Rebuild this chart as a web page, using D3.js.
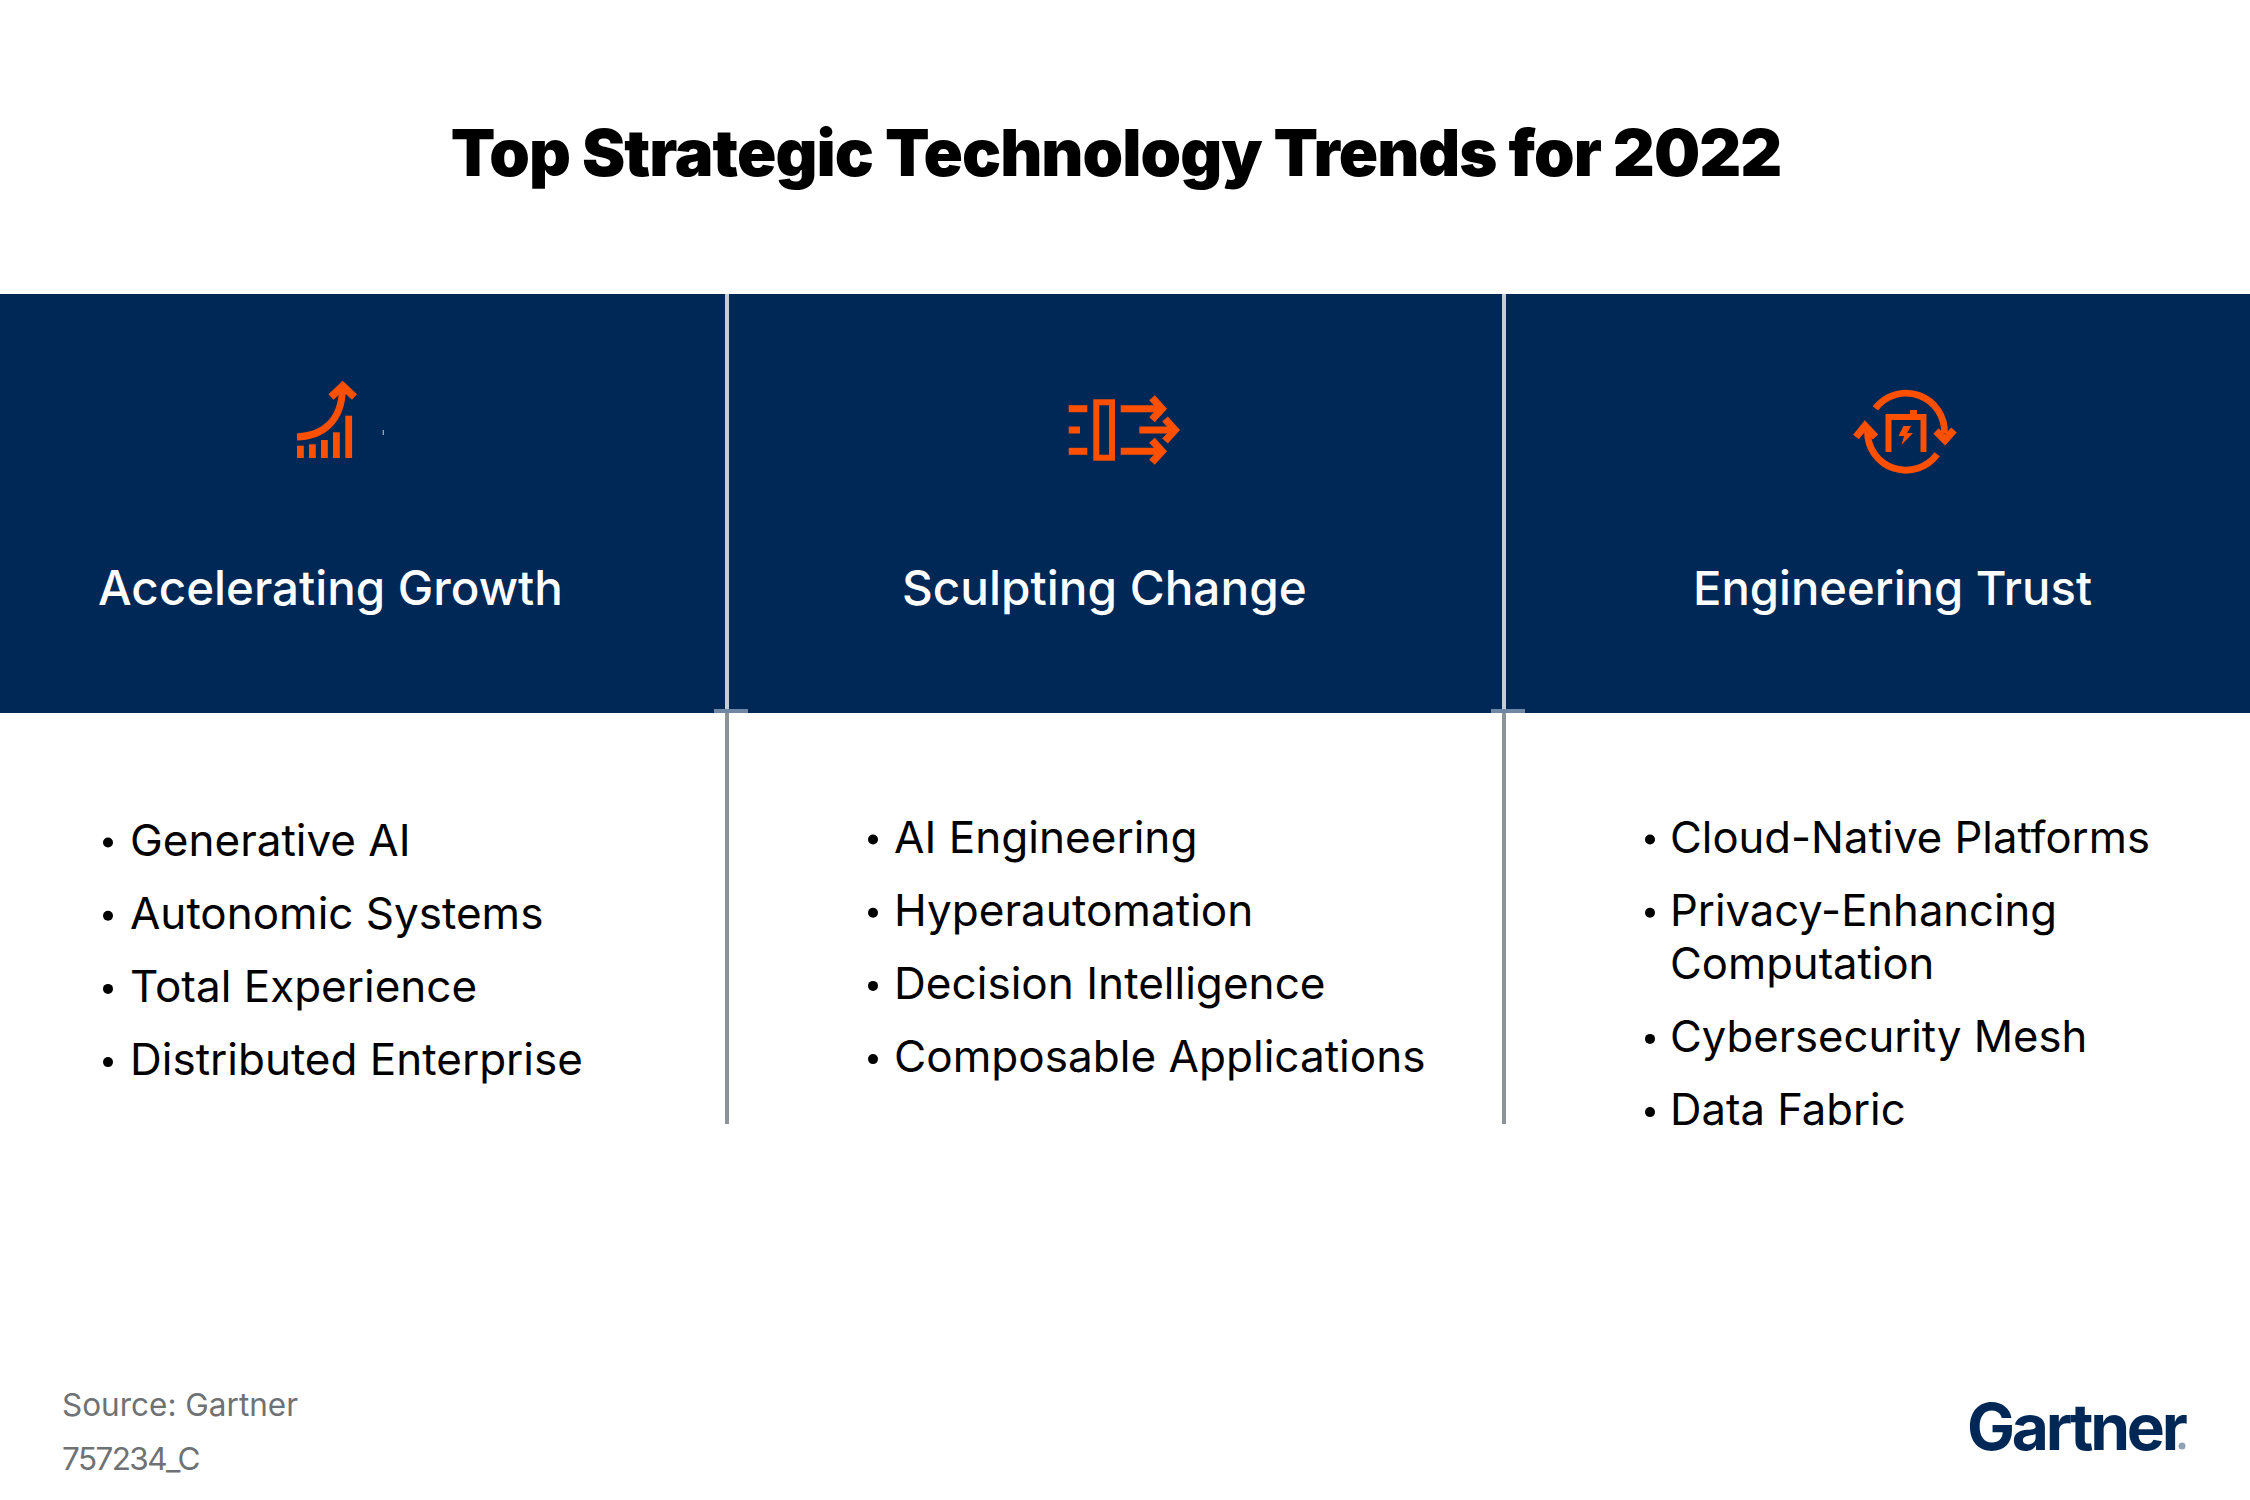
<!DOCTYPE html>
<html><head><meta charset="utf-8">
<script src="https://cdn.jsdelivr.net/npm/d3@7/dist/d3.min.js"></script>
<style>html,body{margin:0;padding:0;background:#fff}svg{display:block}text{font-family:Inter,"Noto Sans",sans-serif}</style>
</head><body><div id="chart"></div>
<script>
const titleText = "Top Strategic Technology Trends for 2022";
const headers = ["Accelerating Growth","Sculpting Change","Engineering Trust"];
const col1Items = ["Generative AI","Autonomic Systems","Total Experience","Distributed Enterprise"];
const col2Items = ["AI Engineering","Hyperautomation","Decision Intelligence","Composable Applications"];
const col3Items = ["Cloud-Native Platforms",["Privacy-Enhancing","Computation"],"Cybersecurity Mesh","Data Fabric"];
const sourceLines = ["Source: Gartner","757234_C"];
const brand = "Gartner";

const NAVY="#002856", ORANGE="#fe5000";
const svg=d3.select("#chart").append("svg").attr("width",2250).attr("height",1500);
svg.append("rect").attr("width",2250).attr("height",1500).attr("fill","#fff");

svg.append("text").attr("x",1116).attr("y",176).attr("text-anchor","middle")
  .attr("font-size",65).attr("font-weight",900).attr("letter-spacing",-0.98).attr("fill","#000").text(titleText);

svg.append("rect").attr("x",0).attr("y",294).attr("width",2250).attr("height",419).attr("fill",NAVY);

// dividers
[727,1504].forEach(x=>{
  svg.append("rect").attr("x",x-2).attr("y",294).attr("width",4).attr("height",419).attr("fill","#c4ccd4");
  svg.append("rect").attr("x",x-2).attr("y",713).attr("width",4).attr("height",411).attr("fill","#8d9396");
  svg.append("rect").attr("x",x-13).attr("y",709).attr("width",34).attr("height",4).attr("fill","#6f87a3");
});

// headers
const hx=[98,902,1693], hy=[604.5,605,604.5], hs=[47.5,47.7,47.2];
svg.selectAll("text.h").data(headers).join("text").attr("class","h")
  .attr("x",(d,i)=>hx[i]).attr("y",(d,i)=>hy[i]).attr("font-size",(d,i)=>hs[i]).attr("font-weight",500)
  .attr("fill","#fff").text(d=>d);

// lists
function list(items,xBullet,xText,y0,step,lineStep,size){
  let y=y0;
  items.forEach(it=>{
    const lines=Array.isArray(it)?it:[it];
    svg.append("circle").attr("cx",xBullet).attr("cy",y-13).attr("r",5).attr("fill","#000");
    lines.forEach((l,k)=>{
      svg.append("text").attr("x",xText).attr("y",y+k*lineStep).attr("font-size",size)
        .attr("font-weight",400).attr("fill","#000").text(l);
    });
    y+=step+(lines.length-1)*lineStep;
  });
}
list(col1Items,108,130,855.5,73.2,53,44);
list(col2Items,873,894,852.5,73.2,53,44.1);
list(col3Items,1650,1670,852.5,73.2,53,43.6);

// footer
svg.selectAll("text.s").data(sourceLines).join("text").attr("class","s")
  .attr("x",62).attr("y",(d,i)=>1416+i*54).attr("font-size",31.5).attr("letter-spacing",(d,i)=>i?-1.6:0)
  .attr("fill","#6f7274").text(d=>d);

// logo
svg.append("text").attr("x",1967).attr("y",1450).attr("font-size",64).attr("font-weight",700)
  .attr("letter-spacing",-3.2).attr("fill",NAVY).text(brand);
svg.append("circle").attr("cx",2182).attr("cy",1446).attr("r",3.5).attr("fill","#8fa3b5");

// icons
const line=d3.line();
const ic=svg.append("g").attr("fill","none").attr("stroke",ORANGE).attr("stroke-width",7).attr("stroke-linejoin","miter");
// growth icon
const barX=[297,309,321,333,345.3], barTop=[445.7,444.3,440,432.3,415.7];
svg.selectAll("rect.b").data(barX).join("rect").attr("class","b").attr("x",d=>d).attr("width",6.8)
  .attr("y",(d,i)=>barTop[i]).attr("height",(d,i)=>458-barTop[i]).attr("fill",ORANGE);
ic.append("path").attr("d","M297,437 C322,436 342,422 342.5,388");
ic.append("path").attr("d",line([[331,397],[342.7,386],[354.5,397]])).attr("stroke-width",7.5);
svg.append("rect").attr("x",382.7).attr("y",430).attr("width",1.2).attr("height",5).attr("fill","#9fb2c6");
// change icon
ic.append("rect").attr("x",1096.3).attr("y",402.3).attr("width",15.7).attr("height",55.4).attr("stroke-width",6);
[[408.7,1068.7,1087.3],[430,1068.7,1080],[451.3,1068.7,1087.3]].forEach(([y,a,b])=>ic.append("path").attr("d",line([[a,y],[b,y]])).attr("stroke-width",7));
[[408.7,1120.7,1162],[430,1139.3,1175],[451.3,1120.7,1162]].forEach(([y,a,b])=>{
  ic.append("path").attr("d",line([[a,y],[b,y]])).attr("stroke-width",7);
  ic.append("path").attr("d",line([[b-10,y-11],[b,y],[b-10,y+11]])).attr("stroke-width",7.5);
});
// trust icon
const cx=1906,cy=431.7,r=38.5;
const arc=d3.arc().innerRadius(r-3.4).outerRadius(r+3.4);
const tg=svg.append("g").attr("transform",`translate(${cx},${cy})`).attr("fill",ORANGE);
tg.append("path").attr("d",arc({startAngle:-0.92,endAngle:1.62}));
tg.append("path").attr("d",arc({startAngle:2.2,endAngle:4.72}));
ic.append("path").attr("d",line([[1936,431],[1945,440],[1954,430]])).attr("stroke-width",7.5);
ic.append("path").attr("d",line([[1856,437],[1865,426],[1875.5,437]])).attr("stroke-width",7.5);
ic.append("path").attr("d",line([[1888.5,452],[1888.5,417],[1923.5,417],[1923.5,452]])).attr("stroke-width",6);
svg.append("rect").attr("x",1910).attr("y",410).attr("width",7).attr("height",6).attr("fill",ORANGE);
svg.append("path").attr("fill",ORANGE).attr("d",line([[1903.5,426],[1911,426],[1907,433],[1913,433],[1901.5,445],[1904,436],[1898.5,436]])+"Z");
</script></body></html>
